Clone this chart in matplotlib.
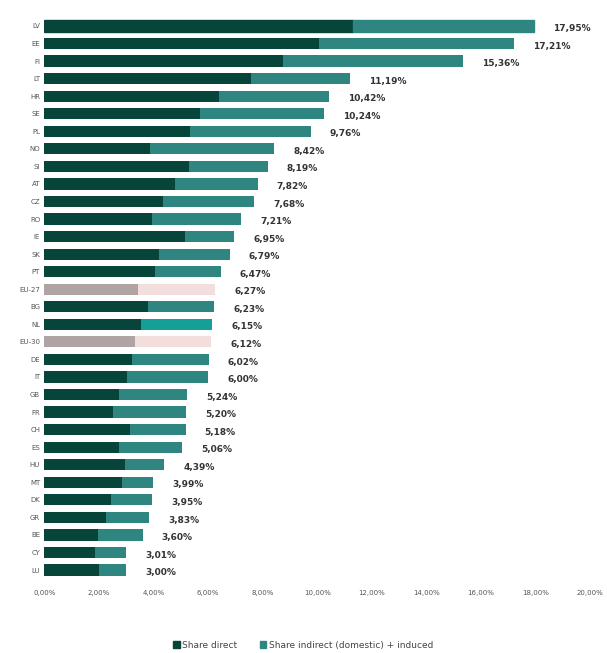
import matplotlib.pyplot as plt
import numpy as np

# countries, top to bottom
countries = ["LV", "EE", "FI", "LT", "HR", "SE", "PL", "NO", "SI", "AT", "CZ",
             "RO", "IE", "SK", "PT", "EU-27", "BG", "NL", "EU-30", "DE", "IT",
             "GB", "FR", "CH", "ES", "HU", "MT", "DK", "GR", "BE", "CY", "LU"]
# total share (%) as labelled
total = [17.95, 17.21, 15.36, 11.19, 10.42, 10.24, 9.76, 8.42, 8.19, 7.82, 7.68,
         7.21, 6.95, 6.79, 6.47, 6.27, 6.23, 6.15, 6.12, 6.02, 6.00,
         5.24, 5.20, 5.18, 5.06, 4.39, 3.99, 3.95, 3.83, 3.60, 3.01, 3.00]
# direct share (%)
direct = [11.30, 10.07, 8.75, 7.57, 6.40, 5.72, 5.33, 3.89, 5.29, 4.80, 4.34,
          3.96, 5.15, 4.20, 4.05, 3.43, 3.81, 3.54, 3.33, 3.20, 3.04,
          2.73, 2.50, 3.15, 2.72, 2.95, 2.83, 2.44, 2.27, 1.97, 1.85, 2.00]
indirect = [t - d for t, d in zip(total, direct)]

c_direct = "#07443a"
c_indirect = "#2f8580"
col_d, col_i = [], []
for c in countries:
    if c.startswith("EU"):
        col_d.append("#b0a3a3")
        col_i.append("#f3dede")
    elif c == "NL":
        col_d.append(c_direct)
        col_i.append("#14a098")
    else:
        col_d.append(c_direct)
        col_i.append(c_indirect)

fig = plt.figure(figsize=(6.07, 6.53), dpi=100)
ax = fig.add_axes([0.073, 0.1136, 0.899, 0.8601])

y = np.arange(len(countries))
ax.barh(y, direct, height=0.64, color=col_d, label="Share direct")
ax.barh(y, indirect, left=direct, height=0.64, color=col_i,
        label="Share indirect (domestic) + induced")

for yi, t in zip(y, total):
    txt = f"{t:.2f}%".replace(".", ",")
    ax.text(t + 0.7, yi + 0.15, txt, ha="left", va="center", fontsize=6.5,
            color="#333333", fontweight="bold")

ax.set_ylim(len(countries) - 0.5, -0.5)
ax.set_xlim(0, 20)
ax.set_yticks(y)
ax.set_yticklabels(countries, fontsize=5, color="#555555")
ax.set_xticks(np.arange(0, 21, 2))
ax.set_xticklabels([f"{v:.2f}%".replace(".", ",") for v in np.arange(0, 21, 2)],
                   fontsize=5, color="#555555")
ax.tick_params(length=0, pad=3)
ax.tick_params(axis="x", pad=8)
for s in ax.spines.values():
    s.set_visible(False)

handles, labels = ax.get_legend_handles_labels()
handles[0].patches[0].set_color(c_direct)
handles[1].patches[0].set_color(c_indirect)
fig.legend([handles[0].patches[0], handles[1].patches[0]], labels,
           loc="center", bbox_to_anchor=(0.5, 0.012), ncol=2, frameon=False,
           fontsize=6.5, handlelength=0.7, handleheight=0.7,
           handletextpad=0.3, columnspacing=2.5, labelcolor="#444444")

fig.savefig("out.png", dpi=100)
